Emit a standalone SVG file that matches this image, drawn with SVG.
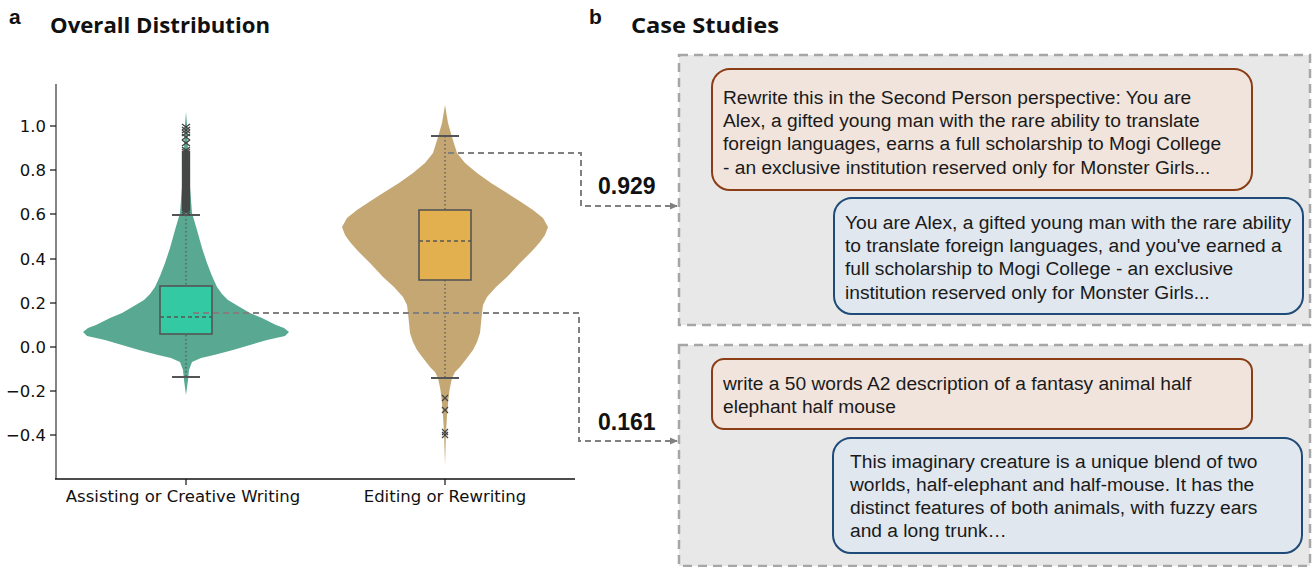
<svg xmlns="http://www.w3.org/2000/svg" width="1312" height="567" viewBox="0 0 1312 567">
<style>
.title{font-family:"Open Sans","Liberation Sans",sans-serif;font-weight:bold;font-size:21px;fill:#111}
.lab{font-family:"Liberation Sans",Arial,sans-serif;font-weight:bold;font-size:21px;fill:#111}
.tick{font-family:"DejaVu Sans",sans-serif;font-size:16.5px;fill:#111}
.val{font-family:"Liberation Sans",Arial,sans-serif;font-weight:bold;font-size:23px;fill:#111}
.msg{font-family:"Liberation Sans",Arial,sans-serif;font-size:19.2px;fill:#1a1a1a}
.conn{fill:none;stroke:#808080;stroke-width:2;stroke-dasharray:6,4}
.panel{fill:#E8E8E8;stroke:#A6A6A6;stroke-width:2.5;stroke-dasharray:9,6}
.user{fill:#F1E4DC;stroke:#8B3E15;stroke-width:2}
.bot{fill:#E0E7EF;stroke:#1F4B78;stroke-width:2}
.boxe{stroke:#555;stroke-width:1.6}
.wh{stroke:#555;stroke-width:2}
.dot{stroke:#555;stroke-width:1.2;stroke-dasharray:1.5,2.5}
.med{stroke:#555;stroke-width:1.3;stroke-dasharray:4,3}
</style>
<defs>
<path id="xm" d="M-3,-3L3,3M-3,3L3,-3" stroke="#444" stroke-width="1.2" fill="none"/>
<path id="xb" d="M-4,-3L4,3M-4,3L4,-3" stroke="#444" stroke-width="1.4" fill="none"/>
<marker id="ah" markerWidth="8" markerHeight="8" refX="7" refY="4" orient="auto" markerUnits="userSpaceOnUse">
<path d="M0,0.5L8,4L0,7.5Z" fill="#808080"/>
</marker>
</defs>
<rect width="1312" height="567" fill="#fff"/>

<g id="titles">
<text x="9" y="24" class="lab">a</text>
<text x="50" y="33" class="title" textLength="220" lengthAdjust="spacingAndGlyphs">Overall Distribution</text>
<text x="589" y="24" class="lab">b</text>
<text x="631" y="33" class="title" textLength="148" lengthAdjust="spacingAndGlyphs">Case Studies</text>
</g>

<g id="axes">
<line x1="56" y1="84" x2="56" y2="479" stroke="#666" stroke-width="1.6"/>
<line x1="55" y1="479" x2="575" y2="479" stroke="#111" stroke-width="1.3"/>
<g stroke="#111" stroke-width="1.2">
<line x1="50" y1="126" x2="56" y2="126"/><line x1="50" y1="170" x2="56" y2="170"/>
<line x1="50" y1="214" x2="56" y2="214"/><line x1="50" y1="259" x2="56" y2="259"/>
<line x1="50" y1="303" x2="56" y2="303"/><line x1="50" y1="347" x2="56" y2="347"/>
<line x1="50" y1="391" x2="56" y2="391"/><line x1="50" y1="435" x2="56" y2="435"/>
<line x1="186" y1="479" x2="186" y2="485"/><line x1="445" y1="479" x2="445" y2="485"/>
</g>
<g class="tick" text-anchor="end">
<text x="46" y="132">1.0</text><text x="46" y="176">0.8</text>
<text x="46" y="220">0.6</text><text x="46" y="265">0.4</text>
<text x="46" y="309">0.2</text><text x="46" y="353">0.0</text>
<text x="46" y="397">−0.2</text><text x="46" y="441">−0.4</text>
</g>
<g class="tick" text-anchor="middle">
<text x="183" y="502">Assisting or Creative Writing</text>
<text x="445" y="502">Editing or Rewriting</text>
</g>
</g>

<g id="violin-assisting">
<path fill="#58A892" d="M186,112 L187,125 L188,150 L189.5,180 L191,200 L192,213 L197,230 L202,248 L207,263 L212,276 L217,287 L222,294 L228,300 L238,306 L250,313 L262,318 L276,325 L284,328 L289,332 L285,336 L267,340 L250,345 L233,350 L214,355 L201,358 L192,362 L189,370 L188,380 L186,395 L184,380 L183,370 L180,362 L171,358 L158,355 L139,350 L122,345 L105,340 L87,336 L83,332 L88,328 L96,325 L110,318 L122,313 L134,306 L144,300 L150,294 L155,287 L160,276 L165,263 L170,248 L175,230 L180,213 L181,200 L182.5,180 L184,150 L185,125 Z"/>
<line x1="186" y1="215" x2="186" y2="377" class="dot"/>
<rect x="160" y="286" width="52" height="48" fill="#33C9A3" class="boxe"/>
<line x1="160" y1="317" x2="212" y2="317" class="med"/>
<line x1="172" y1="215" x2="200" y2="215" class="wh"/>
<line x1="172" y1="377" x2="200" y2="377" class="wh"/>
<g>
<use href="#xb" x="186" y="127"/><use href="#xb" x="186" y="130"/><use href="#xb" x="186" y="133"/><use href="#xb" x="186" y="137"/><use href="#xb" x="186" y="143"/>
<use href="#xb" x="186" y="150"/><use href="#xb" x="186" y="152"/><use href="#xb" x="186" y="154"/><use href="#xb" x="186" y="156"/><use href="#xb" x="186" y="158"/><use href="#xb" x="186" y="160"/><use href="#xb" x="186" y="162"/><use href="#xb" x="186" y="164"/><use href="#xb" x="186" y="166"/><use href="#xb" x="186" y="168"/><use href="#xb" x="186" y="170"/><use href="#xb" x="186" y="172"/><use href="#xb" x="186" y="174"/><use href="#xb" x="186" y="176"/><use href="#xb" x="186" y="178"/><use href="#xb" x="186" y="180"/><use href="#xb" x="186" y="182"/><use href="#xb" x="186" y="184"/><use href="#xb" x="186" y="186"/><use href="#xb" x="186" y="188"/><use href="#xb" x="186" y="190"/><use href="#xb" x="186" y="192"/><use href="#xb" x="186" y="194"/><use href="#xb" x="186" y="196"/><use href="#xb" x="186" y="198"/><use href="#xb" x="186" y="200"/><use href="#xb" x="186" y="202"/><use href="#xb" x="186" y="204"/><use href="#xb" x="186" y="206"/><use href="#xb" x="186" y="208"/><use href="#xb" x="186" y="210"/><use href="#xb" x="186" y="212"/>
</g>
</g>

<g id="violin-editing">
<path fill="#C4A773" d="M445,105 L448,123 L452,137 L457,153 L465,163 L477,173 L491,183 L507,193 L521,202 L533,210 L543,218 L548,227 L545,235 L540,242 L533,250 L520,263 L507,277 L496,287 L487,297 L483,305 L482,313 L481,323 L480,333 L477,342 L473,350 L467,358 L460,367 L455,372 L452,378 L449.5,390 L448.3,400 L447,415 L446,433 L445,465 L444,433 L443,415 L441.7,400 L440.5,390 L438,378 L435,372 L430,367 L423,358 L417,350 L413,342 L410,333 L409,323 L408,313 L407,305 L403,297 L394,287 L383,277 L370,263 L357,250 L350,242 L345,235 L342,227 L347,218 L357,210 L369,202 L383,193 L399,183 L413,173 L425,163 L433,153 L438,137 L442,123 Z"/>
<line x1="445" y1="136" x2="445" y2="378" class="dot"/>
<rect x="419" y="210" width="52" height="70" fill="#E2B04E" class="boxe"/>
<line x1="419" y1="241" x2="471" y2="241" class="med"/>
<line x1="431" y1="136" x2="459" y2="136" class="wh"/>
<line x1="431" y1="378" x2="459" y2="378" class="wh"/>
<use href="#xm" x="445" y="398"/><use href="#xm" x="445" y="410"/><use href="#xm" x="445" y="432"/><use href="#xm" x="445" y="435"/>
</g>

<g id="connectors">
<path class="conn" d="M448,153 H581 V206 H677" marker-end="url(#ah)"/>
<path class="conn" d="M193,313 H579 V441 H677" marker-end="url(#ah)"/>
<text x="598" y="194" class="val">0.929</text>
<text x="598" y="430" class="val">0.161</text>
</g>

<g id="case1">
<rect x="679" y="55" width="631" height="270" class="panel"/>
<g id="case1-user">
<rect x="712" y="69" width="540" height="121" rx="18" class="user"/>
<text class="msg"><tspan x="723" y="104">Rewrite this in the Second Person perspective: You are</tspan><tspan x="723" y="127">Alex, a gifted young man with the rare ability to translate</tspan><tspan x="723" y="150">foreign languages, earns a full scholarship to Mogi College</tspan><tspan x="723" y="174">- an exclusive institution reserved only for Monster Girls...</tspan></text>
</g>
<g id="case1-bot">
<rect x="834" y="198" width="469" height="116" rx="18" class="bot"/>
<text class="msg"><tspan x="845" y="229">You are Alex, a gifted young man with the rare ability</tspan><tspan x="845" y="252">to translate foreign languages, and you've earned a</tspan><tspan x="845" y="275">full scholarship to Mogi College - an exclusive</tspan><tspan x="845" y="299">institution reserved only for Monster Girls...</tspan></text>
</g>
</g>

<g id="case2">
<rect x="679" y="345" width="631" height="221" class="panel"/>
<g id="case2-user">
<rect x="712" y="359" width="540" height="70" rx="12" class="user"/>
<text class="msg"><tspan x="723" y="390">write a 50 words A2 description of a fantasy animal half</tspan><tspan x="723" y="413">elephant half mouse</tspan></text>
</g>
<g id="case2-bot">
<rect x="833" y="438" width="469" height="115" rx="18" class="bot"/>
<text class="msg"><tspan x="850" y="468">This imaginary creature is a unique blend of two</tspan><tspan x="850" y="491">worlds, half-elephant and half-mouse. It has the</tspan><tspan x="850" y="514">distinct features of both animals, with fuzzy ears</tspan><tspan x="850" y="537">and a long trunk…</tspan></text>
</g>
</g>
</svg>
